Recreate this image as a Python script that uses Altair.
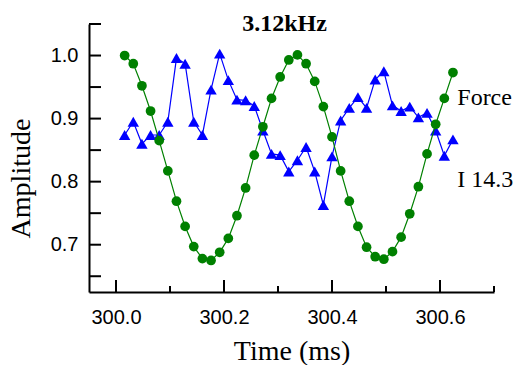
import altair as alt
import pandas as pd

# ---- data ----
time_ms = [300.016, 300.032, 300.048, 300.064, 300.080, 300.096, 300.112, 300.128,
           300.144, 300.160, 300.176, 300.192, 300.208, 300.224, 300.240, 300.256,
           300.272, 300.288, 300.304, 300.320, 300.336, 300.352, 300.368, 300.384,
           300.400, 300.416, 300.432, 300.448, 300.464, 300.480, 300.496, 300.512,
           300.528, 300.544, 300.560, 300.576, 300.592, 300.608, 300.624]

force = [1.000, 0.987, 0.952, 0.912, 0.865, 0.817, 0.769, 0.729, 0.697, 0.678,
         0.675, 0.688, 0.710, 0.746, 0.790, 0.842, 0.887, 0.932, 0.966, 0.993,
         1.001, 0.987, 0.959, 0.919, 0.871, 0.817, 0.769, 0.729, 0.696, 0.681,
         0.677, 0.689, 0.712, 0.749, 0.792, 0.844, 0.891, 0.932, 0.973]

current = [0.874, 0.895, 0.860, 0.874, 0.874, 0.895, 0.996, 0.987, 0.895, 0.874,
           0.946, 1.003, 0.961, 0.930, 0.929, 0.920, 0.881, 0.844, 0.842, 0.816,
           0.834, 0.855, 0.816, 0.763, 0.840, 0.897, 0.917, 0.934, 0.917, 0.962,
           0.975, 0.921, 0.912, 0.919, 0.902, 0.909, 0.881, 0.841, 0.867]

x_major = [300.0, 300.2, 300.4, 300.6]
x_minor = [300.1, 300.3, 300.5, 300.7]
y_labels = [0.7, 0.8, 0.9, 1.0]
y_ticks = [0.65, 0.7, 0.75, 0.8, 0.85, 0.9, 0.95, 1.0, 1.05]

series_labels = ["Force", "I 14.3"]
label_t = [300.632, 300.632]
label_v = [0.921, 0.792]

title_text = "3.12kHz"

# ---- layout ----
W, H = 405, 268
GREEN = "#008000"
BLUE = "#0000ff"
SERIF = "Liberation Serif"
SANS = "Liberation Sans"

xscale = alt.Scale(domain=[299.95, 300.7], nice=False, zero=False)
yscale = alt.Scale(domain=[0.625, 1.05], nice=False, zero=False)

df = pd.DataFrame({"t": time_ms, "force": force, "current": current})

x_axis = alt.Axis(values=x_major, format=".1f", ticks=False, grid=False,
                  labelFont=SANS, labelFontSize=20, labelColor="black",
                  labelPadding=15, labelFlush=False,
                  domainColor="black", domainWidth=2,
                  title="Time (ms)", titleFont=SERIF, titleFontSize=28,
                  titleFontWeight="normal", titleColor="black",
                  titleBaseline="alphabetic", titleY=67)
y_axis = alt.Axis(values=y_labels, format=".1f", ticks=False, grid=False,
                  labelFont=SANS, labelFontSize=20, labelColor="black",
                  labelPadding=11, labelFlush=False,
                  domainColor="black", domainWidth=2,
                  title="Amplitude", titleFont=SERIF, titleFontSize=28,
                  titleFontWeight="normal", titleColor="black",
                  titleAngle=270, titleBaseline="alphabetic", titleAlign="center",
                  titleX=-60, titleY=154)

base = alt.Chart(df)

blue_line = base.mark_line(color=BLUE, strokeWidth=1.2).encode(
    x=alt.X("t:Q", scale=xscale, axis=x_axis),
    y=alt.Y("current:Q", scale=yscale, axis=y_axis),
)
blue_pts = base.mark_point(shape="triangle-up", filled=True, size=130,
                           color=BLUE, opacity=1).encode(
    x=alt.X("t:Q", scale=xscale),
    y=alt.Y("current:Q", scale=yscale),
)
green_line = base.mark_line(color=GREEN, strokeWidth=1.2).encode(
    x=alt.X("t:Q", scale=xscale),
    y=alt.Y("force:Q", scale=yscale),
)
green_pts = base.mark_circle(size=95, color=GREEN, opacity=1).encode(
    x=alt.X("t:Q", scale=xscale),
    y=alt.Y("force:Q", scale=yscale),
)

# inward ticks
yt = alt.Chart(pd.DataFrame({"v": y_ticks})).mark_rule(
    color="black", strokeWidth=2).encode(
    y=alt.Y("v:Q", scale=yscale), x=alt.value(0), x2=alt.value(12))
xt_major = alt.Chart(pd.DataFrame({"v": x_major})).mark_rule(
    color="black", strokeWidth=2).encode(
    x=alt.X("v:Q", scale=xscale), y=alt.value(H), y2=alt.value(H - 12))
xt_minor = alt.Chart(pd.DataFrame({"v": x_minor})).mark_rule(
    color="black", strokeWidth=2).encode(
    x=alt.X("v:Q", scale=xscale), y=alt.value(H), y2=alt.value(H - 6))

labels = alt.Chart(pd.DataFrame({"label": series_labels, "t": label_t, "v": label_v})).mark_text(
    align="left", baseline="alphabetic", font=SERIF, fontSize=24, color="black").encode(
    x=alt.X("t:Q", scale=xscale), y=alt.Y("v:Q", scale=yscale), text="label:N")

chart = alt.layer(blue_line, blue_pts, green_line, green_pts, yt, xt_major, xt_minor, labels).properties(
    width=W, height=H,
    title=alt.TitleParams(title_text, font=SERIF, fontSize=24, fontWeight="bold",
                          color="black", anchor="middle", baseline="alphabetic",
                          offset=0, dx=-7, dy=32),
    padding={"left": 89, "top": 24, "right": 21, "bottom": 73},
    autosize="none",
    background="white",
).configure_view(stroke=None)

chart.save("out.html", embed_options={"renderer": "svg", "actions": False})
